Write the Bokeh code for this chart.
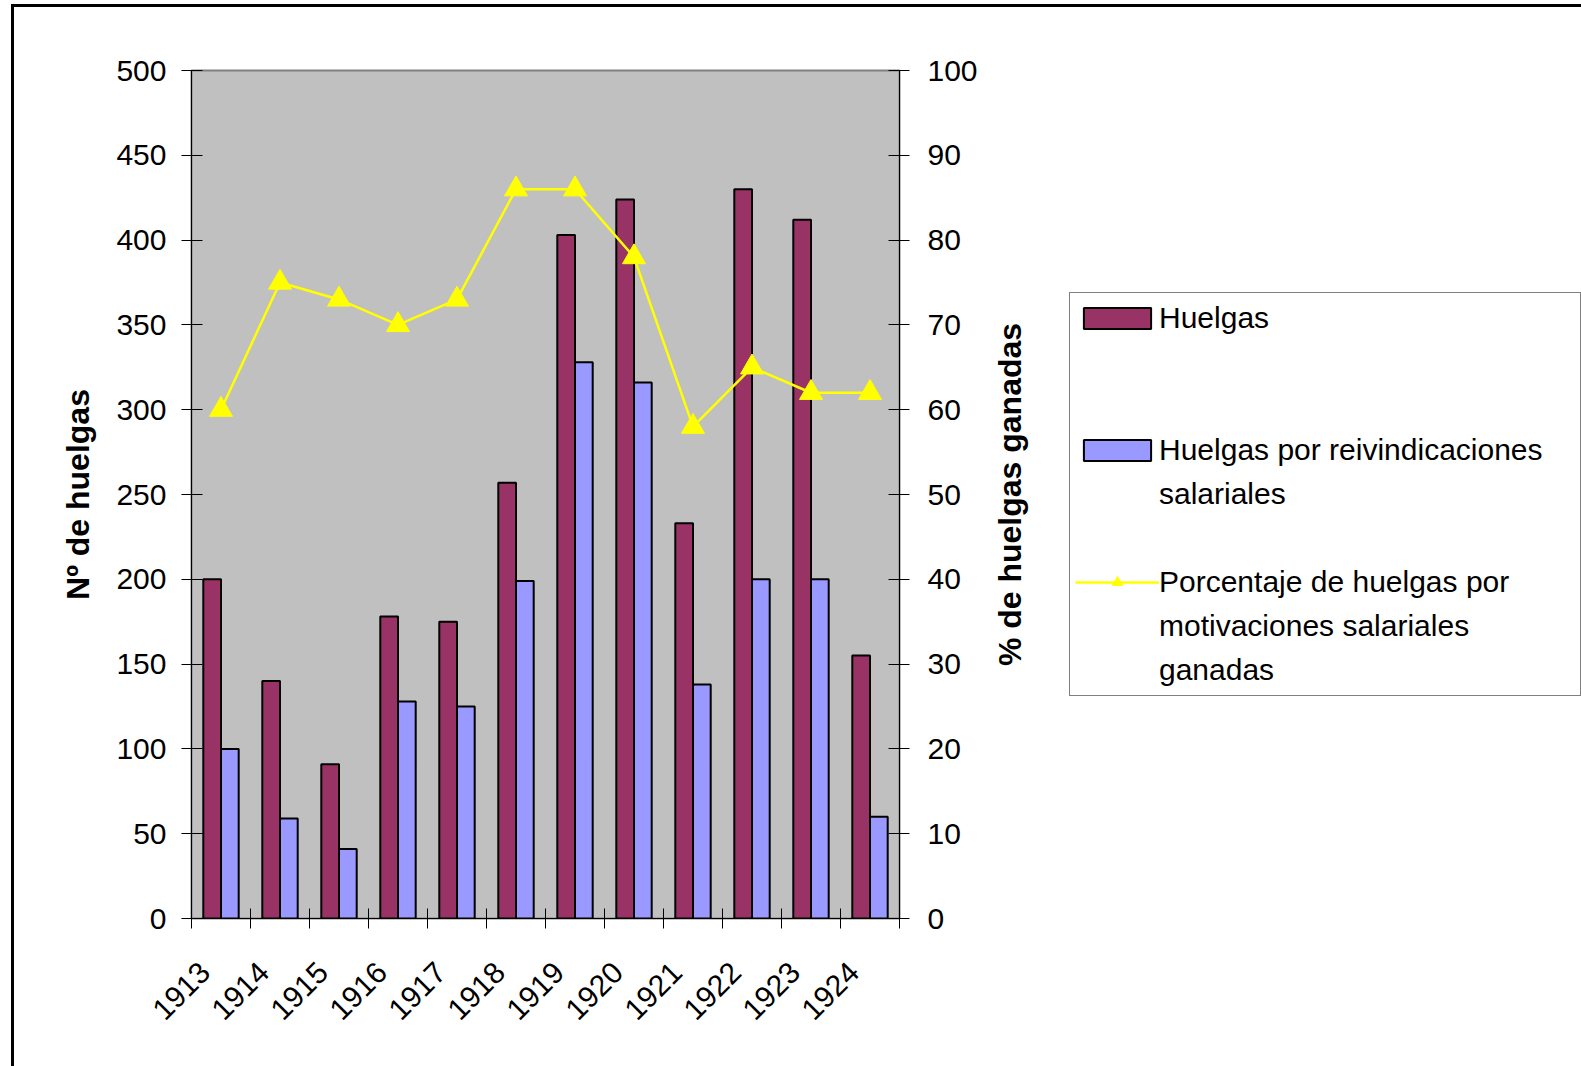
import math
import numpy as np
from bokeh.plotting import figure
from bokeh.layouts import row
from bokeh.core.properties import value
from bokeh.models import (Range1d, LinearAxis, FixedTicker, Legend, LegendItem,
                          ColumnDataSource)
from bokeh.embed import file_html
from bokeh.resources import INLINE

# ---------------- data ----------------
years = ["1913", "1914", "1915", "1916", "1917", "1918",
         "1919", "1920", "1921", "1922", "1923", "1924"]
huelgas = [200, 140, 91, 178, 175, 257, 403, 424, 233, 430, 412, 155]
huelgas_salariales = [100, 59, 41, 128, 125, 199, 328, 316, 138, 200, 200, 60]
porcentaje_ganadas = [60, 75, 73, 70, 73, 86, 86, 78, 58, 65, 62, 62]

left_ticks = [0, 50, 100, 150, 200, 250, 300, 350, 400, 450, 500]
right_ticks = [0, 10, 20, 30, 40, 50, 60, 70, 80, 90, 100]

left_title = "Nº de huelgas"
right_title = "% de huelgas ganadas"

# legend text, one entry per printed line (" " = spacer line)
legend_lines = [
    ("Huelgas", "huelgas"),
    (" ", None),
    (" ", None),
    ("Huelgas por reivindicaciones", "salariales"),
    ("salariales", None),
    (" ", None),
    ("Porcentaje de huelgas por", "pct"),
    ("motivaciones salariales", None),
    ("ganadas", None),
]

FONT = "Liberation Sans"
RED = "#993366"
BLUE = "#9999FF"
YELLOW = "#FFFF00"

n = len(years)
idx = np.arange(n)
centers = [float(i) + 0.5 for i in idx]
bar_w = 0.3
label_shift = 0.27   # rotated year labels end left of the category centre

src = ColumnDataSource(dict(
    year=years,
    xc=centers,
    x_h=[c - bar_w / 2 for c in centers],
    x_s=[c + bar_w / 2 for c in centers],
    huelgas=huelgas,
    salariales=huelgas_salariales,
    pct=porcentaje_ganadas,
))

# canvas starts at page (14, 7) because of the css border/margins of the row
H = 1059
W1 = 971
FL, FT, FW, FH = 177, 63, 708, 848
FB = H - FT - FH
W2 = 1567 - W1

p = figure(width=W1, height=H, output_backend="svg", toolbar_location=None,
           x_range=Range1d(0, n), y_range=Range1d(0, 500),
           min_border_left=FL, min_border_top=FT,
           min_border_right=W1 - FL - FW, min_border_bottom=FB,
           background_fill_color="#C0C0C0", border_fill_color="white",
           outline_line_color="#808080", outline_line_width=2)
p.xgrid.visible = False
p.ygrid.visible = False
p.extra_y_ranges = {"pct": Range1d(0, 100)}

# bars
r1 = p.vbar(x="x_h", top="huelgas", width=bar_w, source=src,
            fill_color=RED, line_color="black", line_width=2)
r2 = p.vbar(x="x_s", top="salariales", width=bar_w, source=src,
            fill_color=BLUE, line_color="black", line_width=2)

# line with triangles (secondary axis)
rl = p.line(x="xc", y="pct", source=src, y_range_name="pct",
            line_color=YELLOW, line_width=2.5)
rs = p.scatter(x="xc", y="pct", source=src, y_range_name="pct",
               marker="triangle", size=23, fill_color=YELLOW, line_color=YELLOW)

# x axis: tick marks at category boundaries
xa = p.xaxis[0]
xa.ticker = FixedTicker(ticks=[float(i) for i in range(n + 1)])
xa.major_label_overrides = {float(i): "" for i in range(n + 1)}
xa.major_label_text_font_size = "1px"
xa.major_tick_in = 10
xa.major_tick_out = 10
xa.minor_tick_line_color = None
xa.axis_line_color = "black"
xa.major_tick_line_color = "black"

# x axis: year labels
lab_pos = [c - label_shift for c in centers]
xl = LinearAxis(ticker=FixedTicker(ticks=lab_pos),
                major_label_overrides={c: y for c, y in zip(lab_pos, years)},
                major_label_orientation=math.pi / 4,
                axis_line_color=None, major_tick_line_color=None,
                minor_tick_line_color=None,
                major_label_text_font=FONT, major_label_text_font_size="30px",
                major_label_text_color="black",
                major_label_standoff=33)
p.add_layout(xl, "below")

# left axis
ya = p.yaxis[0]
ya.ticker = FixedTicker(ticks=left_ticks)
ya.major_tick_in = 11
ya.major_tick_out = 10
ya.minor_tick_line_color = None
ya.axis_line_color = "black"
ya.major_label_text_font = FONT
ya.major_label_text_font_size = "30px"
ya.major_label_text_color = "black"
ya.major_label_standoff = 15
ya.axis_label = left_title
ya.axis_label_text_font = FONT
ya.axis_label_text_font_size = "32px"
ya.axis_label_text_font_style = "bold"
ya.axis_label_text_color = "black"
ya.axis_label_standoff = 17

# right axis (its title is drawn in the neighbouring panel, reading upwards)
yr = LinearAxis(y_range_name="pct", ticker=FixedTicker(ticks=right_ticks),
                major_tick_in=11, major_tick_out=10,
                minor_tick_line_color=None, axis_line_color="black",
                major_label_text_font=FONT, major_label_text_font_size="30px",
                major_label_text_color="black",
                major_label_standoff=18)
p.add_layout(yr, "right")

# ---------------- right panel: axis title + legend ----------------
q = figure(width=W2, height=H, output_backend="svg", toolbar_location=None,
           x_range=Range1d(0, W2), y_range=Range1d(0, 500),
           x_axis_location=None, y_axis_location=None,
           min_border_left=0, min_border_right=0,
           min_border_top=FT, min_border_bottom=FB,
           outline_line_color=None,
           background_fill_color="white", border_fill_color="white")
q.grid.visible = False

q.text(x=[24], y=[250], text=[right_title], angle=math.pi / 2,
       text_align="center", text_baseline="middle",
       text_font=value(FONT), text_font_style="bold",
       text_font_size="32px", text_color="black")

# hidden copies of the series, used only for the legend keys
key = {
    "huelgas": [q.vbar(x="x_h", top="huelgas", width=bar_w, source=src,
                       fill_color=RED, line_color="black", line_width=2,
                       visible=False)],
    "salariales": [q.vbar(x="x_s", top="salariales", width=bar_w, source=src,
                          fill_color=BLUE, line_color="black", line_width=2,
                          visible=False)],
    "pct": [q.line(x="xc", y="pct", source=src, line_color=YELLOW,
                   line_width=2.5, visible=False),
            q.scatter(x="xc", y="pct", source=src, marker="triangle", size=23,
                      fill_color=YELLOW, line_color=YELLOW, visible=False)],
}
blank = q.scatter(x="xc", y="pct", source=src, fill_alpha=0, line_alpha=0,
                  visible=False)

items = [LegendItem(label=txt, renderers=key[k] if k else [blank])
         for txt, k in legend_lines]
legend = Legend(items=items, location=(84, 222))
legend.margin = 0
legend.label_text_font = FONT
legend.label_text_font_size = "30px"
legend.label_text_color = "black"
legend.glyph_width = 84
legend.glyph_height = 26
legend.label_height = 40
legend.label_width = 416
legend.label_standoff = 0
legend.padding = 5
legend.spacing = 4
legend.inactive_fill_alpha = 0
legend.border_line_color = "black"
legend.border_line_width = 1
legend.background_fill_color = "white"
legend.background_fill_alpha = 1
q.add_layout(legend)

layout = row(p, q)
layout.styles = {"margin-left": "11px", "margin-top": "4px",
                 "border-left": "3px solid black", "border-top": "3px solid black"}

open("out.html", "w").write(file_html(layout, INLINE))
